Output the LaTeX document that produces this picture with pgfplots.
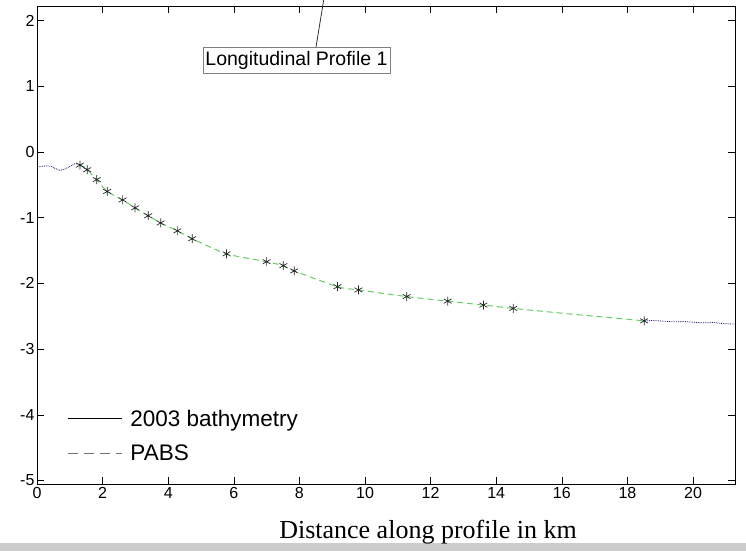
\documentclass[border=0pt]{standalone}
\usepackage{pgfplots}
\pgfplotsset{compat=1.18}
\usepackage{fontspec}
\setmainfont{Liberation Sans}
\newfontfamily\timesfont{Liberation Serif}
\definecolor{bathy}{RGB}{20,20,120}
\definecolor{pabs}{RGB}{100,205,100}
\begin{document}
\begin{tikzpicture}[x=1pt,y=1pt]
\useasboundingbox (0,0) rectangle (746,551);
\fill[gray!40] (0,0) rectangle (746,8);
\begin{axis}[
  at={(37pt,67pt)}, anchor=south west,
  scale only axis, width=698pt, height=478pt,
  xmin=0, xmax=21.28, ymin=-5.053, ymax=2.222,
  xtick={0,2,...,20}, ytick={-5,-4,...,2},
  yticklabels={-5,-4,-3,-2,-1,0,1,2},
  xticklabels={0,2,4,6,8,10,12,14,16,18,20},
  tick align=inside, major tick length=7pt,
  tick style={black, line width=0.6pt},
  axis line style={black, line width=0.8pt},
  tick label style={font=\fontsize{16}{18}\selectfont},
  xticklabel style={yshift=0pt},
  yticklabel style={xshift=1pt},
  legend style={draw=none, fill=none, at={(0.043,0.160)}, anchor=north west,
    inner sep=0pt, font=\fontsize{22.5}{26}\selectfont, row sep=13pt},
  legend cell align=left,
  legend image code/.code={\draw[#1] (0pt,0pt) -- (54pt,0pt); \path (60pt,0pt);},
]
\addlegendimage{black, line width=0.8pt}
\addlegendentry{2003 bathymetry}
\addlegendimage{black!55, line width=1.2pt, dash pattern=on 10pt off 6pt}
\addlegendentry{PABS}

% 2003 bathymetry (navy, thin)
\addplot[bathy, line width=0.8pt, densely dotted, forget plot] coordinates {
(0.00,-0.23) (0.15,-0.22) (0.30,-0.21) (0.45,-0.22) (0.55,-0.25) (0.70,-0.28)
(0.85,-0.26) (1.00,-0.22) (1.15,-0.18) (1.30,-0.19) (1.45,-0.23) (1.55,-0.28)};
\addplot[bathy, line width=0.8pt, densely dotted, forget plot] coordinates {
(18.50,-2.57) (18.80,-2.565) (19.10,-2.575) (19.40,-2.585) (19.70,-2.58)
(20.00,-2.59) (20.30,-2.60) (20.60,-2.595) (20.90,-2.61) (21.28,-2.62)};

% PABS (green dashed)
\addplot[pabs, line width=1pt, dash pattern=on 6pt off 4pt, smooth, tension=0.4, forget plot] coordinates {
(1.31,-0.20) (1.53,-0.27) (1.82,-0.42) (2.14,-0.60) (2.61,-0.73) (2.99,-0.85)
(3.39,-0.97) (3.77,-1.08) (4.28,-1.20) (4.73,-1.32) (5.78,-1.55) (7.00,-1.67)
(7.51,-1.73) (7.84,-1.81) (9.16,-2.05) (9.80,-2.10) (11.27,-2.20) (12.52,-2.27)
(13.61,-2.33) (14.52,-2.38) (16.14,-2.46) (18.51,-2.57)};

% PABS survey points (asterisks)
\addplot[only marks, mark=asterisk, mark size=4.5pt, black!85, line width=0.7pt, forget plot] coordinates {
(1.31,-0.20) (1.53,-0.27) (1.82,-0.42) (2.14,-0.60) (2.61,-0.73) (2.99,-0.85)
(3.39,-0.97) (3.77,-1.08) (4.28,-1.20) (4.73,-1.32) (5.78,-1.55) (7.00,-1.67)
(7.51,-1.73) (7.84,-1.81) (9.16,-2.05) (9.80,-2.10) (11.27,-2.20) (12.52,-2.27)
(13.61,-2.33) (14.52,-2.38) (18.51,-2.57)};
\end{axis}
\node[anchor=base, font=\timesfont\fontsize{26}{30}\selectfont] at (428,13) {Distance along profile in km};
\draw[black!80, line width=0.8pt] (316,504) -- (326,565);
\node[draw=gray, line width=0.8pt, fill=white, inner sep=0pt,
  font=\fontsize{19.5}{22}\selectfont, minimum width=187pt, minimum height=26pt] at (296.5,491) {Longitudinal Profile 1};
\end{tikzpicture}
\end{document}
